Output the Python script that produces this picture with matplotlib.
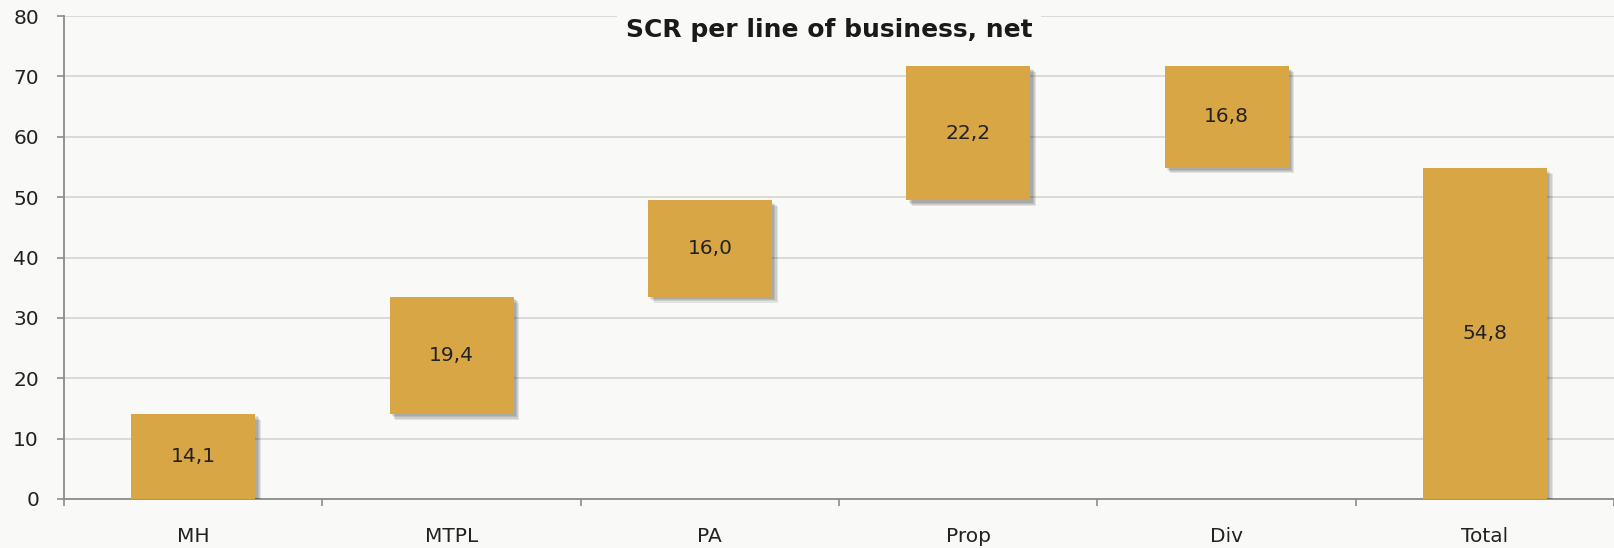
import numpy as np
import matplotlib.pyplot as plt
import matplotlib.patheffects as pe

categories = ["MH", "MTPL", "PA", "Prop", "Div", "Total"]
changes = [14.1, 19.4, 16.0, 22.2, -16.8]
total = 54.8
labels = ["14,1", "19,4", "16,0", "22,2", "16,8", "54,8"]

bg = "#f9f9f7"
bar_col = "#d9a646"

# waterfall bottoms / heights
bottoms = []
heights = []
run = 0.0
for c in changes:
    if c >= 0:
        bottoms.append(run)
        heights.append(c)
    else:
        bottoms.append(run + c)
        heights.append(-c)
    run += c
bottoms.append(0.0)
heights.append(total)

fig = plt.figure(figsize=(16.14, 5.48), dpi=100, facecolor=bg)
ax = fig.add_axes([64/1614, 49/548, 1 - 64/1614, 483/548])
ax.set_facecolor(bg)

x = np.arange(len(categories))
shadow = [pe.SimplePatchShadow(offset=(d, -d), shadow_rgbFace="#000000", alpha=0.09)
          for d in (4.2, 3.4, 2.6, 1.8)] + [pe.Normal()]
bars = ax.bar(x, heights, bottom=bottoms, width=0.48, color=bar_col, zorder=3)
for b in bars:
    b.set_path_effects(shadow)

for xi, b0, h, lab in zip(x, bottoms, heights, labels):
    ax.text(xi, b0 + h / 2, lab, ha="center", va="center", fontsize=14.5,
            color="#222222", zorder=4)

ax.set_xlim(-0.5, 5.5)
ax.set_ylim(0, 80)
ax.set_yticks(np.arange(0, 81, 10))
ax.set_xticks(x)
ax.set_xticklabels(categories)
ax.set_xticks(np.arange(-0.5, 5.6, 1), minor=True)

ax.tick_params(axis="x", which="major", length=0, pad=20, labelsize=14.5, labelcolor="#222222")
ax.tick_params(axis="x", which="minor", length=5, width=1.2, color="#8c8c8c")
ax.tick_params(axis="y", length=5, width=1.2, color="#8c8c8c", pad=13,
               labelsize=14.5, labelcolor="#222222")

ax.grid(axis="y", color="#d8d8d2", linewidth=1.3, zorder=0)
ax.set_axisbelow(True)
for s in ["top", "right"]:
    ax.spines[s].set_visible(False)
for s in ["left", "bottom"]:
    ax.spines[s].set_color("#8c8c8c")
    ax.spines[s].set_linewidth(1.3)

ax.text(0.4935, 77.6, "SCR per line of business, net", ha="center", va="center",
        fontsize=18, fontweight="bold", color="#1a1a1a", zorder=5,
        bbox=dict(boxstyle="square,pad=0.35", facecolor=bg, edgecolor="none"),
        transform=ax.get_yaxis_transform())

plt.savefig("out.png", dpi=100, facecolor=bg)
